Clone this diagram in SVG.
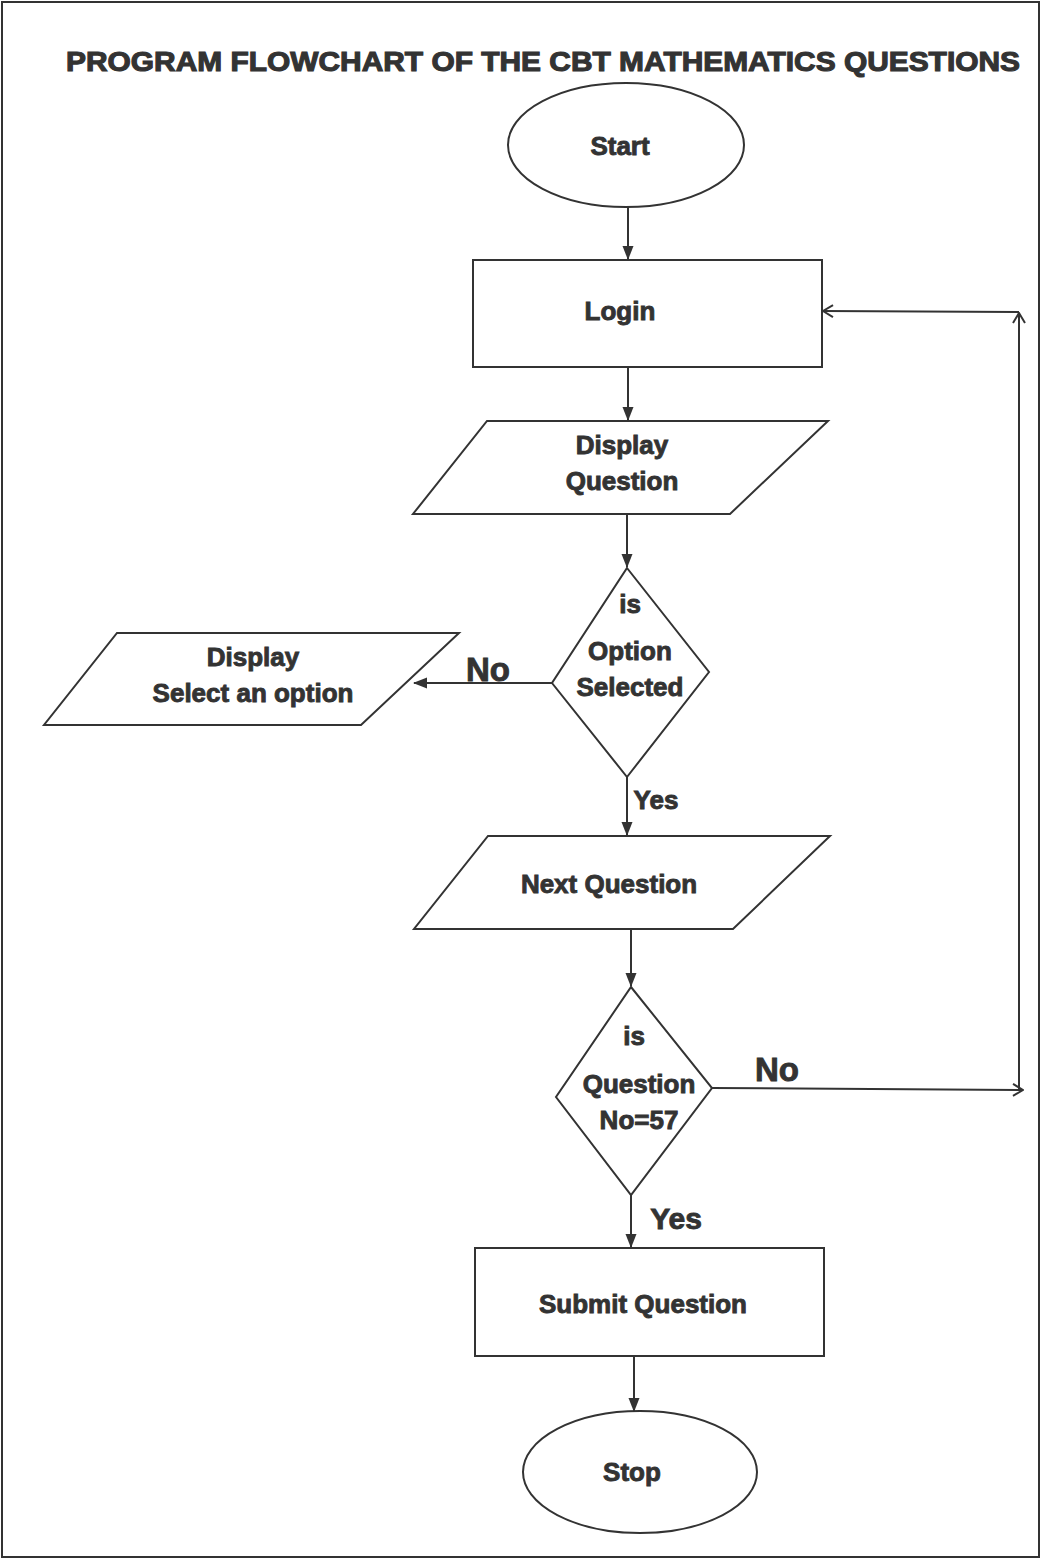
<svg xmlns="http://www.w3.org/2000/svg" width="1042" height="1560" viewBox="0 0 1042 1560">
<style>
.s{fill:#fff;stroke:#333;stroke-width:2}
.c{fill:none;stroke:#333;stroke-width:2}
.t{font-family:"Liberation Sans",Arial,sans-serif;font-weight:bold;fill:#333;stroke:#333;stroke-width:0.9;font-size:26px;text-anchor:middle}
.big{font-size:33px}
</style>
<defs>
<marker id="a" markerWidth="14" markerHeight="12" refX="13" refY="6" orient="auto" markerUnits="userSpaceOnUse">
<path d="M0,0.5 L14,6 L0,11.5 Z" fill="#333"/>
</marker>
<marker id="o" markerWidth="12" markerHeight="14" refX="11" refY="7" orient="auto" markerUnits="userSpaceOnUse">
<path d="M1,1 L11,7 L1,13" fill="none" stroke="#333" stroke-width="2"/>
</marker>
</defs>
<rect x="2" y="2" width="1037" height="1555" fill="#fff" stroke="#333" stroke-width="2"/>
<text class="t" x="543" y="71" style="font-size:27px;stroke-width:1.1" textLength="954" lengthAdjust="spacingAndGlyphs">PROGRAM FLOWCHART OF THE CBT MATHEMATICS QUESTIONS</text>
<g id="start"><ellipse class="s" cx="626" cy="145" rx="118" ry="62"/><text class="t" x="620" y="155">Start</text></g>
<g id="login"><rect class="s" x="473" y="260" width="349" height="107"/><text class="t" x="620" y="320">Login</text></g>
<g id="displayq"><polygon class="s" points="487,421 828,421 730,514 413,514"/><text class="t" x="622" y="454">Display</text><text class="t" x="622" y="490">Question</text></g>
<g id="opt"><polygon class="s" points="627,568 709,672 627,777 552,683"/><text class="t" x="630" y="613">is</text><text class="t" x="630" y="660">Option</text><text class="t" x="630" y="696">Selected</text></g>
<g id="selopt"><polygon class="s" points="117,633 459,633 361,725 44,725"/><text class="t" x="253" y="666">Display</text><text class="t" x="253" y="702">Select an option</text></g>
<g id="next"><polygon class="s" points="488,836 830,836 733,929 414,929"/><text class="t" x="609" y="893">Next Question</text></g>
<g id="qno"><polygon class="s" points="631,987 712,1088 631,1195 556,1097"/><text class="t" x="634" y="1045">is</text><text class="t" x="639" y="1093">Question</text><text class="t" x="639" y="1129">No=57</text></g>
<g id="submit"><rect class="s" x="475" y="1248" width="349" height="108"/><text class="t" x="643" y="1313">Submit Question</text></g>
<g id="stop"><ellipse class="s" cx="640" cy="1472" rx="117" ry="61"/><text class="t" x="632" y="1481">Stop</text></g>
<g id="connectors">
<line class="c" x1="628" y1="207" x2="628" y2="259" marker-end="url(#a)"/>
<line class="c" x1="628" y1="367" x2="628" y2="420" marker-end="url(#a)"/>
<line class="c" x1="627" y1="514" x2="627" y2="567" marker-end="url(#a)"/>
<line class="c" x1="552" y1="683" x2="414" y2="683" marker-end="url(#a)"/>
<line class="c" x1="627" y1="777" x2="627" y2="835" marker-end="url(#a)"/>
<line class="c" x1="631" y1="929" x2="631" y2="986" marker-end="url(#a)"/>
<line class="c" x1="712" y1="1088" x2="1023" y2="1090" marker-end="url(#o)"/>
<line class="c" x1="1019" y1="1090" x2="1019" y2="313" marker-end="url(#o)"/>
<line class="c" x1="1019" y1="312" x2="823" y2="311" marker-end="url(#o)"/>
<line class="c" x1="631" y1="1195" x2="631" y2="1247" marker-end="url(#a)"/>
<line class="c" x1="634" y1="1356" x2="634" y2="1411" marker-end="url(#a)"/>
<text class="t big" x="488" y="681">No</text>
<text class="t" x="656" y="809">Yes</text>
<text class="t big" x="777" y="1081">No</text>
<text class="t" x="676" y="1229" style="font-size:30px">Yes</text>
</g>
</svg>
